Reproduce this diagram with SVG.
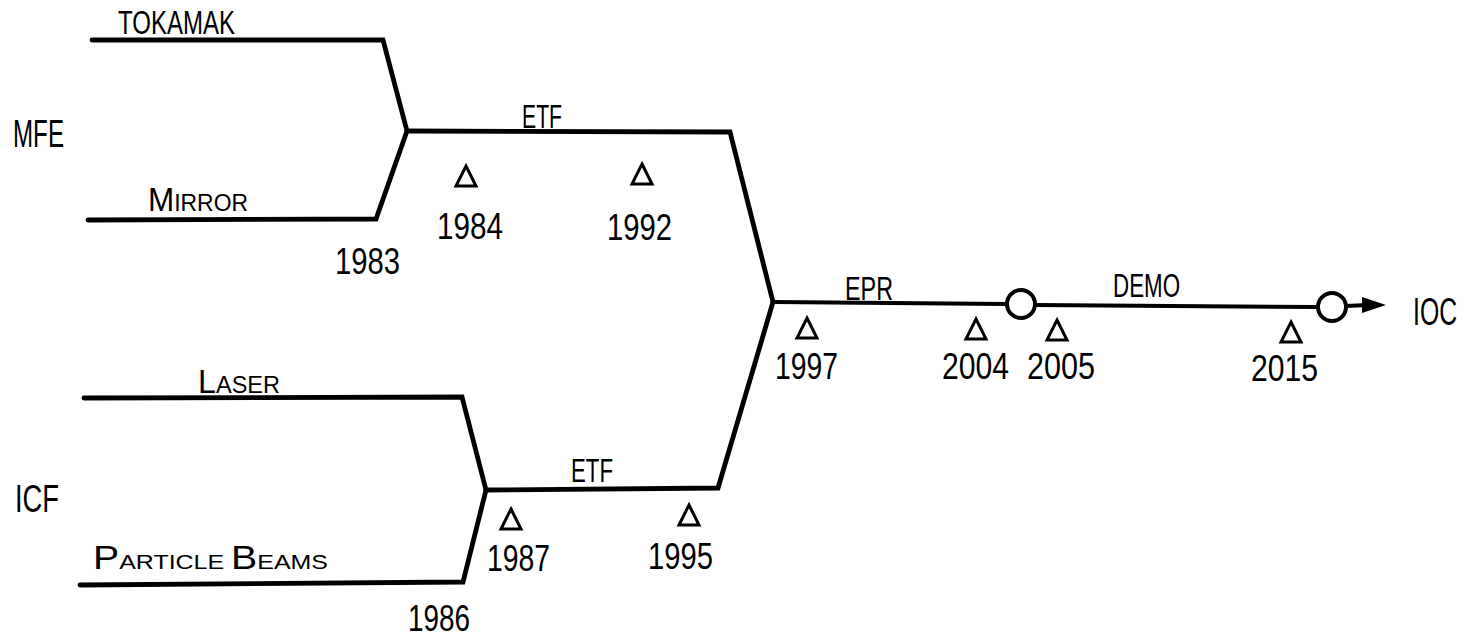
<svg xmlns="http://www.w3.org/2000/svg" width="1479" height="641" viewBox="0 0 1479 641">
<style>
.ln{fill:none;stroke:#000;stroke-width:4.8;stroke-linejoin:miter;stroke-linecap:round}
.ln2{fill:none;stroke:#000;stroke-width:4;stroke-linecap:round}
.circ{fill:#fff;stroke:#000;stroke-width:4}
.tri{fill:none;stroke:#000;stroke-width:3;stroke-linejoin:miter}
text{font-family:"Liberation Sans","DejaVu Sans",sans-serif;fill:#000}
.yr{font-size:37px}
.lb{font-size:33px}
.big{font-size:38px}
.sc{font-size:24px}
</style>
<defs>
<polygon id="tri" class="tri" points="0,-10 10,10 -10,10"/>
</defs>
<rect width="1479" height="641" fill="#fff"/>
<g id="connectors">
<polyline class="ln" points="92,40 383,40 407,131"/>
<polyline class="ln" points="88,220 376,219 407,131"/>
<polyline class="ln" points="407,131 730,132 773,302"/>
<polyline class="ln" points="84,398 462,397 486,490"/>
<polyline class="ln" points="80,585 463,582 486,490"/>
<polyline class="ln" points="486,490 718,488 773,302"/>
<line class="ln2" x1="773" y1="302" x2="1007" y2="304"/>
<line class="ln2" x1="1035" y1="305" x2="1318" y2="307"/>
<line class="ln2" x1="1346" y1="306" x2="1368" y2="305"/>
<polygon points="1362,297 1386,305 1362,313" fill="#000"/>
</g>
<g id="node-mfe"><text class="big" x="13" y="147" textLength="51" lengthAdjust="spacingAndGlyphs">MFE</text></g>
<g id="node-icf"><text class="big" x="15" y="512" textLength="44" lengthAdjust="spacingAndGlyphs">ICF</text></g>
<g id="node-tokamak"><text class="lb" x="118" y="34" textLength="117" lengthAdjust="spacingAndGlyphs">TOKAMAK</text></g>
<g id="node-mirror"><text class="lb" x="148" y="211" font-size="31" textLength="100" lengthAdjust="spacingAndGlyphs">M<tspan class="sc">IRROR</tspan></text></g>
<g id="node-laser"><text class="lb" x="198" y="393" font-size="31" textLength="82" lengthAdjust="spacingAndGlyphs">L<tspan class="sc">ASER</tspan></text></g>
<g id="node-particle-beams"><text class="lb" x="93" y="569" font-size="28" textLength="235" lengthAdjust="spacingAndGlyphs">P<tspan font-size="21">ARTICLE </tspan>B<tspan font-size="21">EAMS</tspan></text></g>
<g id="node-etf-mfe"><text class="lb" x="522" y="128" textLength="40" lengthAdjust="spacingAndGlyphs">ETF</text></g>
<g id="node-etf-icf"><text class="lb" x="571" y="482" textLength="42" lengthAdjust="spacingAndGlyphs">ETF</text></g>
<g id="node-epr"><text class="lb" x="845" y="300" textLength="48" lengthAdjust="spacingAndGlyphs">EPR</text></g>
<g id="node-demo"><text class="lb" x="1113" y="297" textLength="67" lengthAdjust="spacingAndGlyphs">DEMO</text></g>
<g id="node-ioc"><circle class="circ" cx="1021" cy="304" r="14"/><circle class="circ" cx="1332" cy="307" r="14"/><text class="big" x="1413" y="325" textLength="44" lengthAdjust="spacingAndGlyphs">IOC</text></g>
<g id="node-1983"><text class="yr" x="335" y="274" textLength="65" lengthAdjust="spacingAndGlyphs">1983</text></g>
<g id="node-1984"><use href="#tri" x="466" y="176"/><text class="yr" x="437" y="239" textLength="66" lengthAdjust="spacingAndGlyphs">1984</text></g>
<g id="node-1992"><use href="#tri" x="642" y="174"/><text class="yr" x="607" y="240" textLength="65" lengthAdjust="spacingAndGlyphs">1992</text></g>
<g id="node-1997"><use href="#tri" x="807" y="328"/><text class="yr" x="775" y="379" textLength="63" lengthAdjust="spacingAndGlyphs">1997</text></g>
<g id="node-2004"><use href="#tri" x="976" y="329"/><text class="yr" x="942" y="379" textLength="67" lengthAdjust="spacingAndGlyphs">2004</text></g>
<g id="node-2005"><use href="#tri" x="1057" y="330"/><text class="yr" x="1027" y="379" textLength="68" lengthAdjust="spacingAndGlyphs">2005</text></g>
<g id="node-2015"><use href="#tri" x="1291" y="332"/><text class="yr" x="1251" y="381" textLength="67" lengthAdjust="spacingAndGlyphs">2015</text></g>
<g id="node-1986"><text class="yr" x="408" y="631" textLength="62" lengthAdjust="spacingAndGlyphs">1986</text></g>
<g id="node-1987"><use href="#tri" x="511" y="519"/><text class="yr" x="487" y="571" textLength="63" lengthAdjust="spacingAndGlyphs">1987</text></g>
<g id="node-1995"><use href="#tri" x="689" y="515"/><text class="yr" x="648" y="569" textLength="65" lengthAdjust="spacingAndGlyphs">1995</text></g>
</svg>
